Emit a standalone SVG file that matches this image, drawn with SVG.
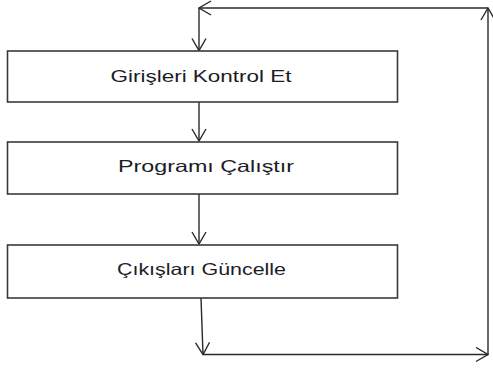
<svg xmlns="http://www.w3.org/2000/svg" width="493" height="370" viewBox="0 0 493 370">
  <style>
    .box { fill: #ffffff; stroke: #3a3a3a; stroke-width: 1.6; }
    .label { font-family: "Liberation Sans", Arial, sans-serif; font-size: 16.5px; fill: #1c1c28; text-anchor: middle; }
    .wire { fill: none; stroke: #2a2a2a; stroke-width: 1.4; }
  </style>
  <defs>
    <marker id="open" viewBox="0 0 14 16" refX="13" refY="8" markerWidth="14" markerHeight="16" markerUnits="userSpaceOnUse" orient="auto">
      <path d="M1,1 L13,8 L1,15" fill="none" stroke="#2a2a2a" stroke-width="1.4"/>
    </marker>
  </defs>
  <rect width="493" height="370" fill="#ffffff"/>

  <g id="connectors">
    <!-- loop entry down into the first step -->
    <line class="wire" x1="199" y1="8" x2="199" y2="50.5" marker-end="url(#open)"/>
    <line class="wire" x1="199" y1="102" x2="199" y2="141" marker-end="url(#open)"/>
    <line class="wire" x1="199" y1="194" x2="199" y2="244" marker-end="url(#open)"/>
    <!-- exit from the last step -->
    <line class="wire" x1="201" y1="298" x2="203" y2="354.5" marker-end="url(#open)"/>
    <!-- return path -->
    <line class="wire" x1="203" y1="354.5" x2="488" y2="354.5" marker-end="url(#open)"/>
    <line class="wire" x1="488" y1="354.5" x2="488" y2="8" marker-end="url(#open)"/>
    <line class="wire" x1="488" y1="8" x2="199" y2="8" marker-end="url(#open)"/>
  </g>

  <g id="step-inputs">
    <rect class="box" x="7.5" y="51" width="390" height="51"/>
    <text class="label" x="201" y="82" textLength="181" lengthAdjust="spacingAndGlyphs">Girişleri Kontrol Et</text>
  </g>

  <g id="step-program">
    <rect class="box" x="7.5" y="142" width="390" height="52"/>
    <text class="label" x="206" y="172" textLength="176" lengthAdjust="spacingAndGlyphs">Programı Çalıştır</text>
  </g>

  <g id="step-outputs">
    <rect class="box" x="7.5" y="245" width="390" height="53"/>
    <text class="label" x="201.5" y="275" textLength="169" lengthAdjust="spacingAndGlyphs">Çıkışları Güncelle</text>
  </g>
</svg>
